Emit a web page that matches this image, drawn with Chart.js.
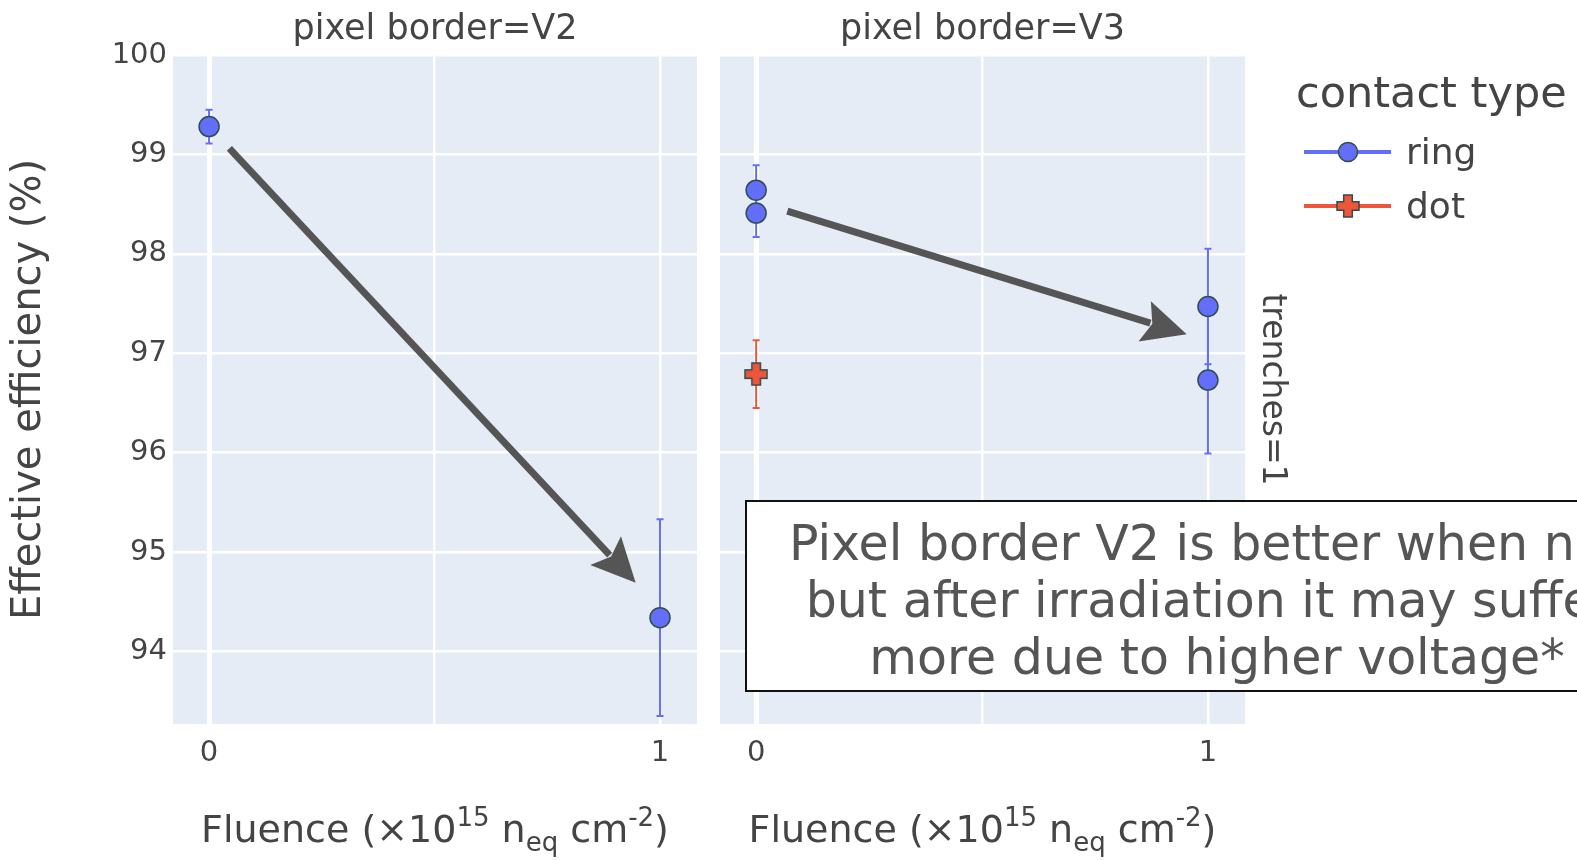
<!DOCTYPE html>
<html>
<head>
<meta charset="utf-8">
<script src="https://cdn.jsdelivr.net/npm/chart.js@4.4.0/dist/chart.umd.min.js"></script>
<style>
  html, body { margin: 0; padding: 0; background: #fff; overflow: hidden; }
  #wrap { position: relative; width: 1577px; height: 860px; }
  #wrap canvas { position: absolute; left: 0; top: 0; }
</style>
</head>
<body>
<div id="wrap">
  <canvas id="leftChart" width="1577" height="860" style="width:1577px;height:860px"></canvas>
  <canvas id="rightChart" width="1577" height="860" style="width:1577px;height:860px"></canvas>
</div>
<script>
// ── Data ─────────────────────────────────────────────────────
const panelTitles = ['pixel border=V2', 'pixel border=V3'];
const xTicks = [0, 0.5, 1];
const xTickLabels = { 0: '0', 1: '1' };
const yTicks = [94, 95, 96, 97, 98, 99, 100];
const legendTitle = 'contact type';
const seriesNames = ['ring', 'dot'];
const facetLabel = 'trenches=1';
const yTitle = 'Effective efficiency (%)';
const xTitleParts = [
    { t: 'Fluence (×10' }, { t: '15', sup: true }, { t: ' n' }, { t: 'eq', sub: true },
    { t: ' cm' }, { t: '-2', sup: true }, { t: ')' }
];
const noteLines = [
    'Pixel border V2 is better when new',
    'but after irradiation it may suffer,',
    'more due to higher voltage*'
];

// pixel border V2
const v2RingFluence = [0, 1];
const v2RingEff = [99.28, 94.34];
const v2RingErr = [0.17, 0.99];

// pixel border V3
const v3RingFluence = [0, 0, 1, 1];
const v3RingEff = [98.64, 98.41, 97.47, 96.73];
const v3RingErr = [0.25, 0.24, 0.58, 0.74];
const v3DotFluence = [0];
const v3DotEff = [96.79];
const v3DotErr = [0.34];

// arrow annotations, data units: [tailX, tailY, headX, headY]
const v2Arrow = [0.045, 99.06, 0.946, 94.69];
const v3Arrow = [0.069, 98.43, 0.953, 97.19];

// ── Style ────────────────────────────────────────────────────
const FONT = 'DejaVu Sans';
const TEXT = '#444';
const RING = '#636EFA';
const DOT = '#EF553B';
const OUTLINE = '#2F4F4F';
const PLOT_BG = '#E5ECF6';
const X_MIN = -0.08, X_MAX = 1.082;
const Y_MIN = 93.27, Y_MAX = 100;

const points = (xs, ys) => xs.map((x, i) => ({ x: x, y: ys[i] }));

// filled plus marker (plotly "cross")
function plusMarker(size, fill, stroke) {
    const c = document.createElement('canvas');
    c.width = c.height = size;
    const g = c.getContext('2d');
    const m = size / 2, a = size * 0.18, r = size / 2 - 1;
    g.beginPath();
    g.moveTo(m - a, m - r); g.lineTo(m + a, m - r); g.lineTo(m + a, m - a);
    g.lineTo(m + r, m - a); g.lineTo(m + r, m + a); g.lineTo(m + a, m + a);
    g.lineTo(m + a, m + r); g.lineTo(m - a, m + r); g.lineTo(m - a, m + a);
    g.lineTo(m - r, m + a); g.lineTo(m - r, m - a); g.lineTo(m - a, m - a);
    g.closePath();
    g.fillStyle = fill; g.fill();
    g.lineWidth = 1.5; g.strokeStyle = stroke; g.stroke();
    return c;
}
const dotMarker = plusMarker(24, DOT, OUTLINE);

// ── Plugins ──────────────────────────────────────────────────
const plotBackground = {
    id: 'plotBackground',
    beforeDraw(chart) {
        const { ctx, chartArea: a } = chart;
        ctx.save();
        ctx.fillStyle = PLOT_BG;
        ctx.fillRect(a.left, a.top, a.right - a.left, a.bottom - a.top);
        ctx.restore();
    }
};

const errorBars = {
    id: 'errorBars',
    beforeDatasetsDraw(chart) {
        const { ctx, scales: { x, y } } = chart;
        ctx.save();
        chart.data.datasets.forEach(ds => {
            ctx.strokeStyle = ds.errorColor;
            ctx.lineWidth = 2;
            ds.data.forEach((p, i) => {
                const px = x.getPixelForValue(p.x);
                const top = y.getPixelForValue(p.y + ds.errors[i]);
                const bot = y.getPixelForValue(p.y - ds.errors[i]);
                ctx.beginPath();
                ctx.moveTo(px, top); ctx.lineTo(px, bot);
                ctx.moveTo(px - 3.5, top); ctx.lineTo(px + 3.5, top);
                ctx.moveTo(px - 3.5, bot); ctx.lineTo(px + 3.5, bot);
                ctx.stroke();
            });
        });
        ctx.restore();
    }
};

function drawArrow(chart, arrow) {
    const { ctx, scales: { x, y } } = chart;
    const x0 = x.getPixelForValue(arrow[0]), y0 = y.getPixelForValue(arrow[1]);
    const x1 = x.getPixelForValue(arrow[2]), y1 = y.getPixelForValue(arrow[3]);
    const ang = Math.atan2(y1 - y0, x1 - x0);
    const len = 44, half = 21;
    const bx = x1 - len * Math.cos(ang), by = y1 - len * Math.sin(ang);
    ctx.save();
    ctx.strokeStyle = '#555';
    ctx.fillStyle = '#555';
    ctx.lineWidth = 7;
    ctx.beginPath();
    ctx.moveTo(x0, y0);
    ctx.lineTo(bx + 6 * Math.cos(ang), by + 6 * Math.sin(ang));
    ctx.stroke();
    ctx.beginPath();
    ctx.moveTo(x1, y1);
    ctx.lineTo(bx - half * Math.sin(ang), by + half * Math.cos(ang));
    ctx.lineTo(bx + 8 * Math.cos(ang), by + 8 * Math.sin(ang));
    ctx.lineTo(bx + half * Math.sin(ang), by - half * Math.cos(ang));
    ctx.closePath();
    ctx.fill();
    ctx.restore();
}

function drawRich(ctx, parts, cx, cy, size) {
    const small = Math.round(size * 0.68);
    const fontOf = p => `${p.sup || p.sub ? small : size}px "${FONT}"`;
    let w = 0;
    parts.forEach(p => { ctx.font = fontOf(p); w += ctx.measureText(p.t).width; });
    let x = cx - w / 2;
    const base = cy + size * 0.36;
    ctx.textAlign = 'left';
    ctx.textBaseline = 'alphabetic';
    parts.forEach(p => {
        ctx.font = fontOf(p);
        const dy = p.sup ? -size * 0.42 : (p.sub ? size * 0.24 : 0);
        ctx.fillText(p.t, x, base + dy);
        x += ctx.measureText(p.t).width;
    });
}

const panelExtras = {
    id: 'panelExtras',
    afterDatasetsDraw(chart, args, opts) {
        const { ctx, chartArea: a } = chart;
        drawArrow(chart, opts.arrow);
        ctx.save();
        ctx.fillStyle = TEXT;
        drawRich(ctx, xTitleParts, (a.left + a.right) / 2, 828, 38);
        ctx.restore();
    }
};

const rightDecor = {
    id: 'rightDecor',
    afterDraw(chart) {
        const { ctx, chartArea: a } = chart;
        ctx.save();
        // facet label
        ctx.fillStyle = TEXT;
        ctx.font = `33px "${FONT}"`;
        ctx.textAlign = 'center';
        ctx.textBaseline = 'middle';
        ctx.translate(a.right + 27, (a.top + a.bottom) / 2);
        ctx.rotate(Math.PI / 2);
        ctx.fillText(facetLabel, 0, 0);
        ctx.restore();

        // legend
        ctx.save();
        ctx.fillStyle = TEXT;
        ctx.textAlign = 'left';
        ctx.textBaseline = 'middle';
        ctx.font = `43px "${FONT}"`;
        ctx.fillText(legendTitle, 1296, 96);
        const colors = [RING, DOT];
        seriesNames.forEach((name, i) => {
            const yy = 152 + i * 54;
            ctx.strokeStyle = colors[i];
            ctx.lineWidth = 4;
            ctx.beginPath(); ctx.moveTo(1304, yy); ctx.lineTo(1391, yy); ctx.stroke();
            if (i === 0) {
                ctx.beginPath(); ctx.arc(1348, yy, 9.5, 0, Math.PI * 2);
                ctx.fillStyle = RING; ctx.fill();
                ctx.lineWidth = 1.5; ctx.strokeStyle = OUTLINE; ctx.stroke();
            } else {
                ctx.drawImage(dotMarker, 1348 - 12, yy - 12);
            }
            ctx.fillStyle = TEXT;
            ctx.font = `36px "${FONT}"`;
            ctx.fillText(name, 1406, yy + 3);
        });
        ctx.restore();

        // note box
        ctx.save();
        ctx.fillStyle = '#fff';
        ctx.fillRect(746, 501, 900, 190);
        ctx.strokeStyle = '#111';
        ctx.lineWidth = 2;
        ctx.strokeRect(746, 501, 900, 190);
        ctx.fillStyle = '#555';
        ctx.font = `49px "${FONT}"`;
        ctx.textAlign = 'center';
        ctx.textBaseline = 'middle';
        noteLines.forEach((line, i) => ctx.fillText(line, 1217, 547 + i * 57));
        ctx.restore();
    }
};

// ── Chart builder ────────────────────────────────────────────
function panelOptions(title, padLeft, padRight, showY, arrow) {
    return {
        responsive: false,
        animation: false,
        events: [],
        layout: { padding: { left: padLeft, right: padRight, top: 0, bottom: 0 } },
        plugins: {
            legend: { display: false },
            tooltip: { enabled: false },
            title: {
                display: true, text: title, fullSize: false, color: TEXT,
                font: { family: FONT, size: 35, weight: 'normal', lineHeight: 1.2 },
                padding: { top: 9, bottom: 4 }
            },
            panelExtras: { arrow: arrow }
        },
        scales: {
            x: {
                type: 'linear', min: X_MIN, max: X_MAX,
                afterBuildTicks: s => { s.ticks = xTicks.map(v => ({ value: v })); },
                afterFit: s => { s.height = 136; },
                grid: {
                    color: '#fff', drawTicks: false,
                    lineWidth: c => (c.tick && c.tick.value === 0 ? 5 : 2.5)
                },
                border: { display: false },
                ticks: {
                    color: TEXT, padding: 12, maxRotation: 0, autoSkip: false,
                    font: { family: FONT, size: 29 },
                    callback: v => xTickLabels[v] || ''
                }
            },
            y: {
                type: 'linear', min: Y_MIN, max: Y_MAX,
                afterBuildTicks: s => { s.ticks = yTicks.map(v => ({ value: v })); },
                afterFit: s => { s.width = showY ? 173 : 0; },
                grid: { color: '#fff', drawTicks: false, lineWidth: 2.5 },
                border: { display: false },
                ticks: {
                    display: showY, color: TEXT, padding: 6,
                    font: { family: FONT, size: 29 }
                },
                title: {
                    display: showY, text: yTitle, color: TEXT,
                    font: { family: FONT, size: 40 },
                    padding: { top: 6, bottom: 0 }
                }
            }
        }
    };
}

new Chart(document.getElementById('leftChart'), {
    type: 'scatter',
    data: {
        datasets: [{
            label: seriesNames[0],
            data: points(v2RingFluence, v2RingEff),
            errors: v2RingErr, errorColor: RING,
            pointStyle: 'circle', pointRadius: 10,
            backgroundColor: RING, borderColor: OUTLINE, borderWidth: 1.5
        }]
    },
    options: panelOptions(panelTitles[0], 0, 1577 - 697, true, v2Arrow),
    plugins: [plotBackground, errorBars, panelExtras]
});

new Chart(document.getElementById('rightChart'), {
    type: 'scatter',
    data: {
        datasets: [{
            label: seriesNames[0],
            data: points(v3RingFluence, v3RingEff),
            errors: v3RingErr, errorColor: RING,
            pointStyle: 'circle', pointRadius: 10,
            backgroundColor: RING, borderColor: OUTLINE, borderWidth: 1.5
        }, {
            label: seriesNames[1],
            data: points(v3DotFluence, v3DotEff),
            errors: v3DotErr, errorColor: DOT,
            pointStyle: dotMarker, pointRadius: 12,
            backgroundColor: DOT, borderColor: OUTLINE, borderWidth: 1.5
        }]
    },
    options: panelOptions(panelTitles[1], 720, 1577 - 1245, false, v3Arrow),
    plugins: [plotBackground, errorBars, panelExtras, rightDecor]
});
</script>
</body>
</html>
